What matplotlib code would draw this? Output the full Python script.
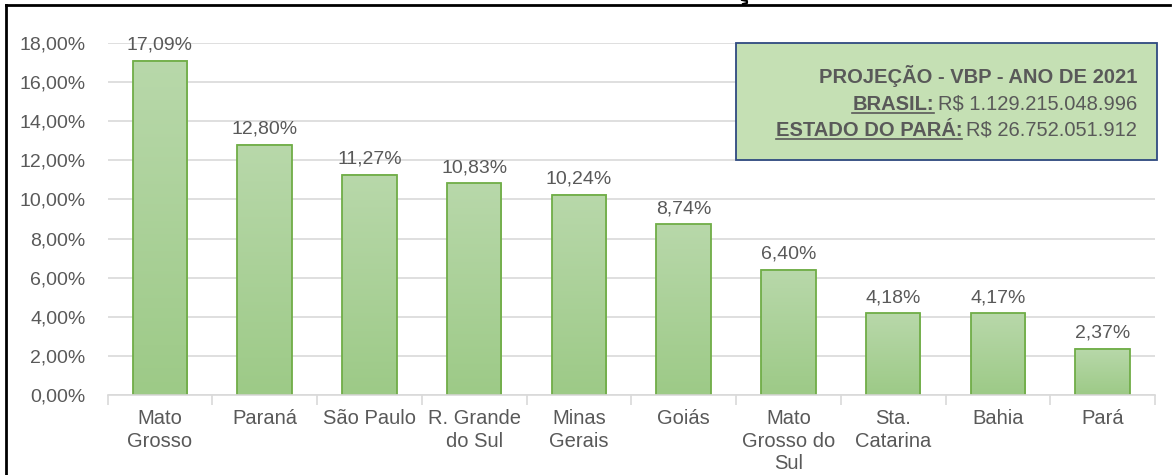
import matplotlib
matplotlib.use("Agg")
import matplotlib.pyplot as plt
import numpy as np
from matplotlib.colors import LinearSegmentedColormap
from matplotlib.lines import Line2D

categories = ["Mato\nGrosso", "Paraná", "São Paulo", "R. Grande\ndo Sul", "Minas\nGerais",
              "Goiás", "Mato\nGrosso do\nSul", "Sta.\nCatarina", "Bahia", "Pará"]
values = [17.09, 12.80, 11.27, 10.83, 10.24, 8.74, 6.40, 4.18, 4.17, 2.37]
yticks = [0, 2, 4, 6, 8, 10, 12, 14, 16, 18]
box_title = "PROJEÇÃO - VBP - ANO DE 2021"
box_labels = ["BRASIL:", "ESTADO DO PARÁ:"]
box_values = ["R$ 1.129.215.048.996", "R$ 26.752.051.912"]

FONT = ["Liberation Sans Narrow", "Liberation Sans", "DejaVu Sans"]
plt.rcParams['font.family'] = FONT
GRAY = "#595959"

W, H = 1173, 475
fig = plt.figure(figsize=(W / 100, H / 100), dpi=100)
ax = fig.add_axes([107.6 / W, (H - 395) / H, (1155 - 107.6) / W, (395 - 43) / H])

x = np.arange(len(categories))
bars = ax.bar(x, values, width=0.52, color="none", edgecolor="#70ad47", linewidth=1.3, zorder=3)
cmap = LinearSegmentedColormap.from_list("g", ["#9dca87", "#b8d8aa"])
grad = np.linspace(0, 1, 100).reshape(-1, 1)
for b in bars:
    x0, w, h = b.get_x(), b.get_width(), b.get_height()
    ax.imshow(grad, extent=(x0, x0 + w, 0, h), origin="lower", cmap=cmap,
              aspect="auto", zorder=2)

for xi, v in zip(x, values):
    ax.annotate(f"{v:.2f}%".replace(".", ","), (xi, v), xytext=(0, 5),
                textcoords="offset points", ha="center", va="bottom",
                fontsize=14, color=GRAY)

ax.set_xlim(-0.5, len(categories) - 0.5)
ax.set_ylim(0, 18)
ax.set_yticks(yticks)
ax.set_yticklabels([f"{t:.2f}%".replace(".", ",") for t in yticks], fontsize=14, color=GRAY)
ax.set_xticks(x)
ax.set_xticklabels(categories, fontsize=14.5, color=GRAY, linespacing=1.25)
ax.tick_params(axis="x", which="major", length=0, pad=10)
ax.set_xticks(np.arange(-0.5, len(categories)), minor=True)
ax.tick_params(axis="x", which="minor", length=7, color="#d9d9d9", width=1.2, direction="out")
ax.tick_params(axis="y", length=0, pad=16)
ax.grid(axis="y", color="#d9d9d9", linewidth=1.2, zorder=0)
ax.set_axisbelow(True)
for s in ["top", "right", "left"]:
    ax.spines[s].set_visible(False)
ax.spines["bottom"].set_color("#d9d9d9")
ax.spines["bottom"].set_linewidth(1.2)
ax.spines["bottom"].set_zorder(4)

# info box
bx0, by0, bx1, by1 = 736, 43, 1157, 160
rect = plt.Rectangle((bx0 / W, 1 - by1 / H), (bx1 - bx0) / W, (by1 - by0) / H,
                     transform=fig.transFigure, facecolor="#c5e0b4", edgecolor="#2f4a80",
                     linewidth=1.3, zorder=10)
fig.patches.append(rect)
xr = 1137 / W
fig.text(xr, 1 - 76 / H, box_title, ha="right", va="center", fontsize=14.5,
         fontweight="bold", color=GRAY, zorder=11)
fig.canvas.draw()
renderer = fig.canvas.get_renderer()
for i, (lab, val) in enumerate(zip(box_labels, box_values)):
    yc = 1 - (104 + 26 * i) / H
    tv = fig.text(xr, yc, val, ha="right", va="center", fontsize=14.5, color=GRAY, zorder=11)
    bb = tv.get_window_extent(renderer)
    tl = fig.text((bb.x0 - 4) / W, yc, lab, ha="right", va="center", fontsize=14.5,
                  fontweight="bold", color=GRAY, zorder=11)
    lb = tl.get_window_extent(renderer)
    uy = (lb.y0 + 1) / H
    fig.lines.append(Line2D([lb.x0 / W, lb.x1 / W], [uy, uy], transform=fig.transFigure,
                            color=GRAY, linewidth=1.2, zorder=11))

# outer frame
fig.lines.append(Line2D([6 / W, 6 / W], [0, 1 - 5 / H], transform=fig.transFigure,
                        color="black", linewidth=2))
fig.lines.append(Line2D([6 / W, 1170 / W], [1 - 5 / H, 1 - 5 / H], transform=fig.transFigure,
                        color="black", linewidth=2))
# fragment of the cropped title (cedilla tail)
fig.lines.append(Line2D([742 / W, 747 / W, 747 / W, 743 / W],
                        [1 - 0 / H, 1 - 1 / H, 1 - 3 / H, 1 - 4 / H],
                        transform=fig.transFigure, color="black", linewidth=1.5))

fig.savefig("out.png", dpi=100)
